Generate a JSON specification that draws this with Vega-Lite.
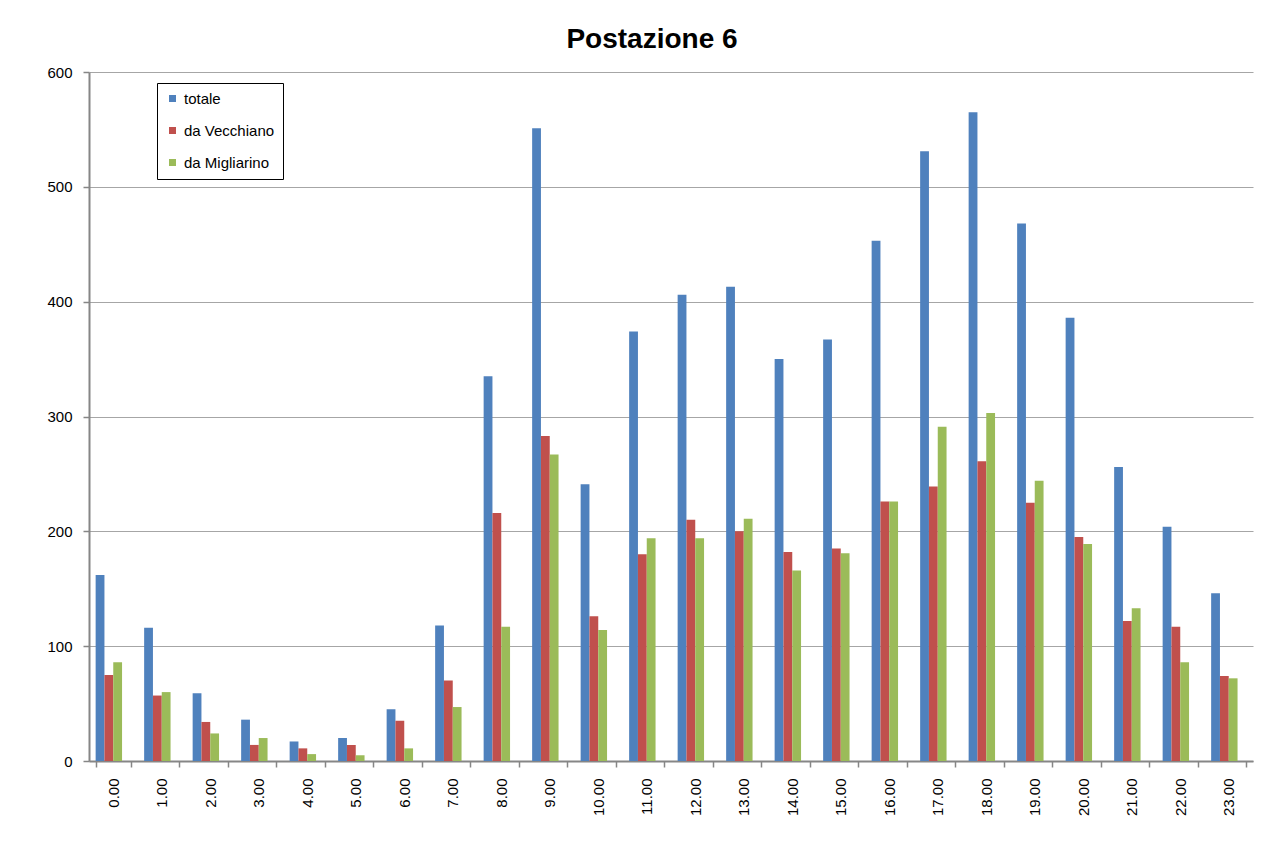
{
  "$schema": "https://vega.github.io/schema/vega-lite/v6.json",
  "width": 1164,
  "height": 689,
  "autosize": {"type": "none"},
  "padding": {"left": 89, "top": 72, "right": 28, "bottom": 80},
  "background": "white",
  "title": {
    "text": "Postazione 6",
    "font": "Liberation Sans",
    "fontSize": 28,
    "fontWeight": "bold",
    "color": "black",
    "anchor": "middle",
    "baseline": "alphabetic",
    "dx": -19,
    "dy": 27,
    "offset": 16
  },
  "data": {
    "values": [
      {"ora": "0.00", "serie": "totale", "valore": 162},
      {"ora": "0.00", "serie": "da Vecchiano", "valore": 75},
      {"ora": "0.00", "serie": "da Migliarino", "valore": 86},
      {"ora": "1.00", "serie": "totale", "valore": 116},
      {"ora": "1.00", "serie": "da Vecchiano", "valore": 57},
      {"ora": "1.00", "serie": "da Migliarino", "valore": 60},
      {"ora": "2.00", "serie": "totale", "valore": 59},
      {"ora": "2.00", "serie": "da Vecchiano", "valore": 34},
      {"ora": "2.00", "serie": "da Migliarino", "valore": 24},
      {"ora": "3.00", "serie": "totale", "valore": 36},
      {"ora": "3.00", "serie": "da Vecchiano", "valore": 14},
      {"ora": "3.00", "serie": "da Migliarino", "valore": 20},
      {"ora": "4.00", "serie": "totale", "valore": 17},
      {"ora": "4.00", "serie": "da Vecchiano", "valore": 11},
      {"ora": "4.00", "serie": "da Migliarino", "valore": 6},
      {"ora": "5.00", "serie": "totale", "valore": 20},
      {"ora": "5.00", "serie": "da Vecchiano", "valore": 14},
      {"ora": "5.00", "serie": "da Migliarino", "valore": 5},
      {"ora": "6.00", "serie": "totale", "valore": 45},
      {"ora": "6.00", "serie": "da Vecchiano", "valore": 35},
      {"ora": "6.00", "serie": "da Migliarino", "valore": 11},
      {"ora": "7.00", "serie": "totale", "valore": 118},
      {"ora": "7.00", "serie": "da Vecchiano", "valore": 70},
      {"ora": "7.00", "serie": "da Migliarino", "valore": 47},
      {"ora": "8.00", "serie": "totale", "valore": 335},
      {"ora": "8.00", "serie": "da Vecchiano", "valore": 216},
      {"ora": "8.00", "serie": "da Migliarino", "valore": 117},
      {"ora": "9.00", "serie": "totale", "valore": 551},
      {"ora": "9.00", "serie": "da Vecchiano", "valore": 283},
      {"ora": "9.00", "serie": "da Migliarino", "valore": 267},
      {"ora": "10.00", "serie": "totale", "valore": 241},
      {"ora": "10.00", "serie": "da Vecchiano", "valore": 126},
      {"ora": "10.00", "serie": "da Migliarino", "valore": 114},
      {"ora": "11.00", "serie": "totale", "valore": 374},
      {"ora": "11.00", "serie": "da Vecchiano", "valore": 180},
      {"ora": "11.00", "serie": "da Migliarino", "valore": 194},
      {"ora": "12.00", "serie": "totale", "valore": 406},
      {"ora": "12.00", "serie": "da Vecchiano", "valore": 210},
      {"ora": "12.00", "serie": "da Migliarino", "valore": 194},
      {"ora": "13.00", "serie": "totale", "valore": 413},
      {"ora": "13.00", "serie": "da Vecchiano", "valore": 200},
      {"ora": "13.00", "serie": "da Migliarino", "valore": 211},
      {"ora": "14.00", "serie": "totale", "valore": 350},
      {"ora": "14.00", "serie": "da Vecchiano", "valore": 182},
      {"ora": "14.00", "serie": "da Migliarino", "valore": 166},
      {"ora": "15.00", "serie": "totale", "valore": 367},
      {"ora": "15.00", "serie": "da Vecchiano", "valore": 185},
      {"ora": "15.00", "serie": "da Migliarino", "valore": 181},
      {"ora": "16.00", "serie": "totale", "valore": 453},
      {"ora": "16.00", "serie": "da Vecchiano", "valore": 226},
      {"ora": "16.00", "serie": "da Migliarino", "valore": 226},
      {"ora": "17.00", "serie": "totale", "valore": 531},
      {"ora": "17.00", "serie": "da Vecchiano", "valore": 239},
      {"ora": "17.00", "serie": "da Migliarino", "valore": 291},
      {"ora": "18.00", "serie": "totale", "valore": 565},
      {"ora": "18.00", "serie": "da Vecchiano", "valore": 261},
      {"ora": "18.00", "serie": "da Migliarino", "valore": 303},
      {"ora": "19.00", "serie": "totale", "valore": 468},
      {"ora": "19.00", "serie": "da Vecchiano", "valore": 225},
      {"ora": "19.00", "serie": "da Migliarino", "valore": 244},
      {"ora": "20.00", "serie": "totale", "valore": 386},
      {"ora": "20.00", "serie": "da Vecchiano", "valore": 195},
      {"ora": "20.00", "serie": "da Migliarino", "valore": 189},
      {"ora": "21.00", "serie": "totale", "valore": 256},
      {"ora": "21.00", "serie": "da Vecchiano", "valore": 122},
      {"ora": "21.00", "serie": "da Migliarino", "valore": 133},
      {"ora": "22.00", "serie": "totale", "valore": 204},
      {"ora": "22.00", "serie": "da Vecchiano", "valore": 117},
      {"ora": "22.00", "serie": "da Migliarino", "valore": 86},
      {"ora": "23.00", "serie": "totale", "valore": 146},
      {"ora": "23.00", "serie": "da Vecchiano", "valore": 74},
      {"ora": "23.00", "serie": "da Migliarino", "valore": 72}
    ]
  },
  "mark": {"type": "bar"},
  "encoding": {
    "x": {
      "field": "ora",
      "type": "nominal",
      "sort": null,
      "scale": {"paddingInner": 0.274, "paddingOuter": 0.137},
      "axis": {
        "title": null,
        "labelAngle": -90,
        "labelFont": "Liberation Sans",
        "labelFontSize": 15,
        "labelColor": "black",
        "labelPadding": 11,
        "tickBand": "extent",
        "tickSize": 6,
        "tickColor": "#868686",
        "tickWidth": 1.5,
        "domainColor": "#868686",
        "domainWidth": 2,
        "grid": false
      }
    },
    "xOffset": {
      "field": "serie",
      "type": "nominal",
      "scale": {"domain": ["totale", "da Vecchiano", "da Migliarino", "vuoto"], "paddingInner": 0, "paddingOuter": 0}
    },
    "y": {
      "field": "valore",
      "type": "quantitative",
      "scale": {"domain": [0, 600], "nice": false},
      "axis": {
        "title": null,
        "values": [0, 100, 200, 300, 400, 500, 600],
        "labelFont": "Liberation Sans",
        "labelFontSize": 15,
        "labelColor": "black",
        "labelPadding": 11,
        "tickSize": 6,
        "tickColor": "#868686",
        "tickWidth": 1.5,
        "domainColor": "#868686",
        "domainWidth": 2,
        "grid": true,
        "gridColor": "#a6a6a6",
        "gridWidth": 1.2
      }
    },
    "color": {
      "field": "serie",
      "type": "nominal",
      "scale": {"domain": ["totale", "da Vecchiano", "da Migliarino"], "range": ["#4F81BD", "#C0504D", "#9BBB59"]},
      "legend": {
        "title": null,
        "orient": "none",
        "legendX": 68,
        "legendY": 11,
        "symbolType": "square",
        "symbolSize": 49,
        "symbolStrokeWidth": 0,
        "labelFont": "Liberation Sans",
        "labelFontSize": 15,
        "labelColor": "black",
        "labelOffset": 4,
        "rowPadding": 16,
        "padding": 8,
        "strokeColor": "black",
        "fillColor": "white"
      }
    }
  },
  "config": {
    "view": {"stroke": null},
    "legend": {"strokeWidth": 1}
  }
}
